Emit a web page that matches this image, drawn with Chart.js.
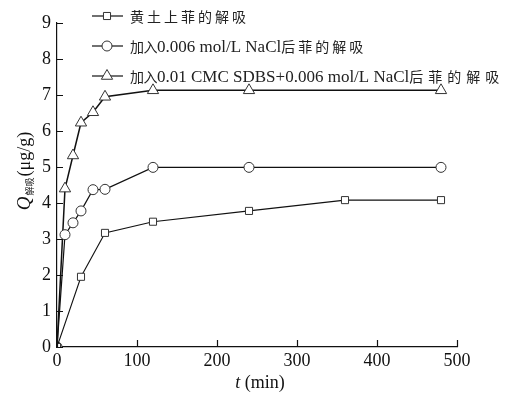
<!DOCTYPE html>
<html>
<head>
<meta charset="utf-8">
<script src="https://cdn.jsdelivr.net/npm/chart.js@4/dist/chart.umd.min.js"></script>
<style>
  html, body { margin: 0; padding: 0; background: #fff; }
  #wrap { width: 515px; height: 393px; }
</style>
</head>
<body>
<div id="wrap"><canvas id="c" width="515" height="393"></canvas></div>
<script>
// --- data ---
const seriesNames = [
    '黄土上菲的解吸',
    '加入0.006 mol/L NaCl后菲的解吸',
    '加入0.01 CMC SDBS+0.006 mol/L NaCl后菲的解吸'
];
const timeSquare = [0, 30, 60, 120, 240, 360, 480];
const valSquare  = [0, 1.95, 3.17, 3.48, 3.78, 4.08, 4.08];
const timeCircle = [0, 10, 20, 30, 45, 60, 120, 240, 480];
const valCircle  = [0, 3.12, 3.45, 3.78, 4.37, 4.38, 4.99, 4.99, 4.99];
const timeTri    = [0, 10, 20, 30, 45, 60, 120, 240, 480];
const valTri     = [0, 4.4, 5.32, 6.23, 6.52, 6.95, 7.13, 7.13, 7.13];
const xTicks = [0, 100, 200, 300, 400, 500];
const yTicks = [0, 1, 2, 3, 4, 5, 6, 7, 8, 9];

const serif = '"Liberation Serif", "Times New Roman", serif';
const cjkFont = '"Noto Sans CJK SC", sans-serif';

function pts(xs, ys) { return xs.map((x, i) => ({ x: x, y: ys[i] })); }

function ds(label, data, style, r, lw) {
    return {
        label: label,
        data: data,
        borderColor: '#111',
        borderWidth: lw,
        pointStyle: style,
        pointRadius: r,
        pointBackgroundColor: '#fff',
        pointBorderColor: '#333',
        pointBorderWidth: 1,
        tension: 0
    };
}

// latin runs in serif, chinese chars one by one; first cjk run uses lead step, later runs trail step
function drawMixed(ctx, text, x, y, lead, trail) {
    const runs = text.match(/[\u4e00-\u9fff]+|[^\u4e00-\u9fff]+/g);
    let cjkRun = 0;
    runs.forEach(r => {
        if (/[\u4e00-\u9fff]/.test(r)) {
            const step = cjkRun === 0 ? lead : trail;
            cjkRun++;
            ctx.font = '14px ' + cjkFont;
            for (const ch of r) {
                ctx.fillText(ch, x, y);
                x += step;
            }
        } else {
            ctx.font = '17px ' + serif;
            ctx.fillText(r, x, y + 1);
            x += ctx.measureText(r).width;
        }
    });
}

// inward ticks, axis titles, legend
const decor = {
    id: 'decor',
    afterDraw(chart) {
        const ctx = chart.ctx;
        const xs = chart.scales.x, ys = chart.scales.y;
        const a = chart.chartArea;
        ctx.save();
        ctx.strokeStyle = '#111';
        ctx.lineWidth = 1.2;
        ctx.beginPath();
        xTicks.forEach(v => {
            const px = Math.round(xs.getPixelForValue(v)) + 0.5;
            ctx.moveTo(px, a.bottom); ctx.lineTo(px, a.bottom - 7);
        });
        yTicks.forEach(v => {
            const py = Math.round(ys.getPixelForValue(v)) + 0.5;
            ctx.moveTo(a.left, py); ctx.lineTo(a.left + 6, py);
        });
        ctx.stroke();

        // x title: t (min)
        ctx.fillStyle = '#111';
        ctx.textBaseline = 'alphabetic';
        ctx.font = 'italic 18px ' + serif;
        const cx = (a.left + a.right) / 2 + 3;
        const w1 = ctx.measureText('t').width;
        ctx.font = '18px ' + serif;
        const w2 = ctx.measureText(' (min)').width;
        let sx = cx - (w1 + w2) / 2;
        ctx.font = 'italic 18px ' + serif;
        ctx.fillText('t', sx, 388);
        ctx.font = '18px ' + serif;
        ctx.fillText(' (min)', sx + w1, 388);

        // y title: Q解吸(μg/g)
        ctx.save();
        ctx.translate(24, 171);
        ctx.rotate(-Math.PI / 2);
        ctx.font = 'italic 19px ' + serif;
        const q = ctx.measureText('Q').width;
        ctx.font = '9px ' + cjkFont;
        const sub = ctx.measureText('解吸').width;
        ctx.font = '18px ' + serif;
        const unit = ctx.measureText('(μg/g)').width;
        let x0 = -(q + sub + unit + 2) / 2;
        ctx.font = 'italic 19px ' + serif;
        ctx.fillText('Q', x0, 6);
        ctx.font = '9px ' + cjkFont;
        ctx.fillText('解吸', x0 + q + 1, 9);
        ctx.font = '18px ' + serif;
        ctx.fillText('(μg/g)', x0 + q + sub + 2, 6);
        ctx.restore();

        // legend
        const ly = [16, 46, 76];
        const lead = [17, 13.5, 13.5];
        const trail = [17, 17, 19];
        chart.data.datasets.forEach((d, i) => {
            const y = ly[i];
            ctx.strokeStyle = '#111';
            ctx.lineWidth = 1.2;
            ctx.beginPath();
            ctx.moveTo(92, y); ctx.lineTo(123, y);
            ctx.stroke();
            ctx.fillStyle = '#fff';
            ctx.strokeStyle = '#333';
            ctx.lineWidth = 1;
            Chart.helpers.drawPoint(ctx, { pointStyle: d.pointStyle, radius: d.pointRadius, rotation: 0, borderWidth: 1 }, 107, y);
            ctx.fillStyle = '#222';
            ctx.textBaseline = 'middle';
            drawMixed(ctx, d.label, 130, y + 1, lead[i], trail[i]);
        });
        ctx.restore();
    }
};

new Chart(document.getElementById('c'), {
    type: 'line',
    data: {
        datasets: [
            ds(seriesNames[0], pts(timeSquare, valSquare), 'rect', 5, 1.1),
            ds(seriesNames[1], pts(timeCircle, valCircle), 'circle', 5, 1.2),
            ds(seriesNames[2], pts(timeTri, valTri), 'triangle', 6.5, 1.5)
        ]
    },
    options: {
        responsive: false,
        animation: false,
        layout: { padding: { top: 23, right: 58, left: 0, bottom: 0 } },
        plugins: { legend: { display: false }, tooltip: { enabled: false } },
        scales: {
            x: {
                type: 'linear', min: 0, max: 500,
                afterBuildTicks: s => { s.ticks = xTicks.map(v => ({ value: v })); },
                afterFit: s => { s.height = 46; },
                grid: { display: false, drawTicks: false },
                border: { color: '#111', width: 1.2 },
                ticks: { color: '#111', font: { family: serif, size: 18 }, padding: 3, maxRotation: 0 }
            },
            y: {
                type: 'linear', min: 0, max: 9,
                afterBuildTicks: s => { s.ticks = yTicks.map(v => ({ value: v })); },
                afterFit: s => { s.width = 57; },
                grid: { display: false, drawTicks: false },
                border: { color: '#111', width: 1.2 },
                ticks: { color: '#111', font: { family: serif, size: 18 }, padding: 6 }
            }
        }
    },
    plugins: [decor]
});
</script>
</body>
</html>
